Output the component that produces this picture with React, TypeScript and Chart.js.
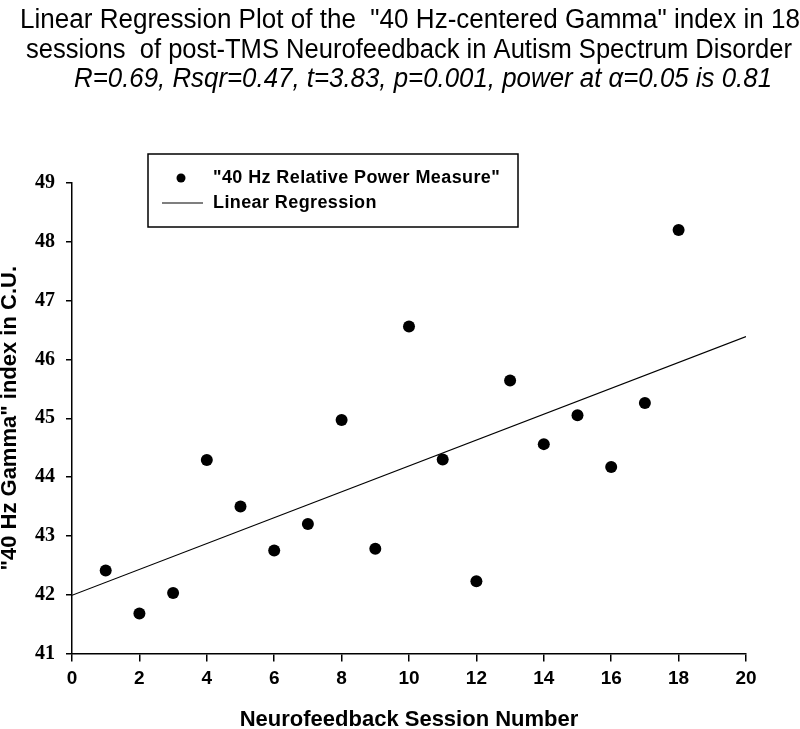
import React, { useEffect, useRef } from "react";
import { Chart, registerables } from "chart.js";

Chart.register(...registerables);

// ---- data ----
const TITLE_LINES = [
  'Linear Regression Plot of the  "40 Hz-centered Gamma" index in 18',
  "sessions  of post-TMS Neurofeedback in Autism Spectrum Disorder",
];
const SUBTITLE = "R=0.69, Rsqr=0.47, t=3.83, p=0.001, power at \u03b1=0.05 is 0.81";
const SERIES_LABELS = ['"40 Hz Relative Power Measure"', "Linear Regression"];
const X_TITLE = "Neurofeedback Session Number";
const Y_TITLE = '"40 Hz Gamma" index in C.U.';

const SESSIONS = [1, 2, 3, 4, 5, 6, 7, 8, 9, 10, 11, 12, 13, 14, 15, 16, 17, 18];
const GAMMA = [
  42.41, 41.68, 42.03, 44.29, 43.5, 42.75, 43.2, 44.97, 42.78, 46.56, 44.3, 42.23,
  45.64, 44.56, 45.05, 44.17, 45.26, 48.2,
];
const REG_X = [0, 20];
const REG_Y = [41.99, 46.39];

const X_MIN = 0;
const X_MAX = 20;
const X_STEP = 2;
const Y_MIN = 41;
const Y_MAX = 49;
const Y_STEP = 1;

const SANS = '"Liberation Sans", Arial, sans-serif';
const SERIF = '"Liberation Serif", "Times New Roman", serif';

const titlePlugin = {
  id: "stackedTitle",
  afterDraw(chart: any) {
    const ctx = chart.ctx;
    const specs = [
      { text: TITLE_LINES[0], cx: 410, w: 780, y: 28, style: "" },
      { text: TITLE_LINES[1], cx: 409, w: 766, y: 58, style: "" },
      { text: SUBTITLE, cx: 423, w: 698, y: 87, style: "italic " },
    ];
    specs.forEach((s) => {
      ctx.save();
      ctx.font = `${s.style}27px ${SANS}`;
      ctx.fillStyle = "#000";
      ctx.textBaseline = "alphabetic";
      ctx.textAlign = "center";
      const m = ctx.measureText(s.text).width;
      ctx.translate(s.cx, s.y);
      ctx.scale(s.w / m, 1);
      ctx.fillText(s.text, 0, 0);
      ctx.restore();
    });
  },
};

const legendPlugin = {
  id: "boxLegend",
  afterDraw(chart: any) {
    const ctx = chart.ctx;
    const ds = chart.data.datasets;
    const bx = 148, by = 154, bw = 370, bh = 73;
    ctx.save();
    ctx.fillStyle = "#fff";
    ctx.fillRect(bx, by, bw, bh);
    ctx.strokeStyle = "#000";
    ctx.lineWidth = 1.5;
    ctx.strokeRect(bx, by, bw, bh);
    ctx.fillStyle = "#000";
    ctx.beginPath();
    ctx.arc(181, 178, 4.5, 0, Math.PI * 2);
    ctx.fill();
    ctx.lineWidth = 1.2;
    ctx.beginPath();
    ctx.moveTo(162, 203);
    ctx.lineTo(203, 203);
    ctx.stroke();
    ctx.font = `bold 18px ${SANS}`;
    (ctx as any).letterSpacing = "0.4px";
    ctx.textAlign = "left";
    ctx.textBaseline = "middle";
    ctx.fillText(ds[0].label, 213, 178);
    ctx.fillText(ds[1].label, 213, 203);
    ctx.restore();
  },
};

export default function App() {
  const ref = useRef<HTMLCanvasElement | null>(null);
  useEffect(() => {
    document.body.style.margin = "0";
    const canvas = ref.current;
    if (!canvas) return;
    const chart = new Chart(canvas, {
      type: "scatter",
      data: {
        datasets: [
          {
            label: SERIES_LABELS[0],
            data: SESSIONS.map((x, i) => ({ x, y: GAMMA[i] })),
            backgroundColor: "#000",
            borderColor: "#000",
            borderWidth: 0,
            pointRadius: 6,
            pointHoverRadius: 6,
          },
          {
            label: SERIES_LABELS[1],
            type: "line",
            data: REG_X.map((x, i) => ({ x, y: REG_Y[i] })),
            borderColor: "#000",
            borderWidth: 1.2,
            pointRadius: 0,
            fill: false,
          } as any,
        ],
      },
      options: {
        responsive: false,
        animation: false,
        layout: { padding: { top: 183, right: 54, left: 0, bottom: 0 } },
        plugins: {
          legend: { display: false },
          title: { display: false },
          tooltip: { enabled: false },
        },
        scales: {
          x: {
            type: "linear",
            min: X_MIN,
            max: X_MAX,
            afterFit: (s: any) => {
              s.height = 75.5;
            },
            ticks: {
              stepSize: X_STEP,
              color: "#000",
              padding: 6,
              font: { family: SANS, size: 19, weight: "bold" },
            },
            grid: {
              drawOnChartArea: false,
              drawTicks: true,
              tickLength: 8,
              color: "#000",
              lineWidth: 1.5,
            },
            border: { display: true, color: "#000", width: 1.5 },
            title: {
              display: true,
              text: X_TITLE,
              color: "#000",
              font: { family: SANS, size: 22, weight: "bold", lineHeight: 1 },
              padding: { top: 0, bottom: -2 },
            },
          },
          y: {
            type: "linear",
            min: Y_MIN,
            max: Y_MAX,
            afterFit: (s: any) => {
              s.width = 72;
            },
            ticks: {
              stepSize: Y_STEP,
              color: "#000",
              padding: 11,
              font: { family: SERIF, size: 20, weight: "bold" },
            },
            grid: {
              drawOnChartArea: false,
              drawTicks: true,
              tickLength: 6,
              color: "#000",
              lineWidth: 1.5,
            },
            border: { display: true, color: "#000", width: 1.5 },
            title: {
              display: true,
              text: Y_TITLE,
              color: "#000",
              font: { family: SANS, size: 22, weight: "bold", lineHeight: 1 },
              padding: { top: -1.5, bottom: 0 },
            },
          },
        },
      },
      plugins: [titlePlugin, legendPlugin],
    });
    return () => chart.destroy();
  }, []);
  return <canvas ref={ref} width={800} height={729} style={{ display: "block" }} />;
}
